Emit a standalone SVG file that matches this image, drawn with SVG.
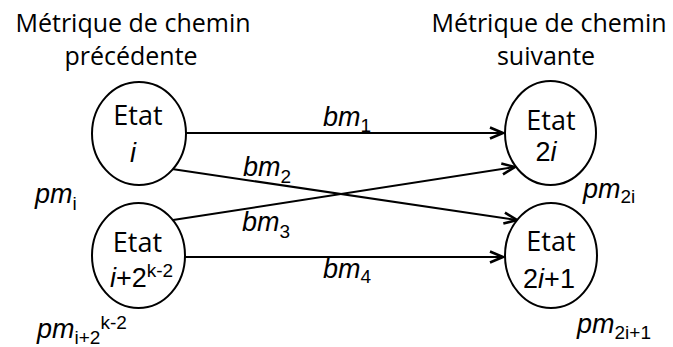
<svg xmlns="http://www.w3.org/2000/svg" width="673" height="347" viewBox="0 0 673 347">
<defs>
<style>
.bg{fill:#fff}
.node{fill:#fff;stroke:#000;stroke-width:2}
.edge{fill:none;stroke:#000;stroke-width:2}
.t{font-family:"Open Sans","DejaVu Sans",sans-serif;font-size:25px;fill:#000}
.e{font-size:27px}
.a{font-family:"Liberation Sans",Arial,sans-serif;fill:#000}
.big{font-size:27px}
.sub{font-size:19px;font-style:normal}
.it{font-style:italic}
</style>
<marker id="arr" markerUnits="userSpaceOnUse" markerWidth="20" markerHeight="16" refX="16" refY="8" orient="auto">
<path d="M3,2.5 L16,8 L3,13.5" fill="none" stroke="#000" stroke-width="2.6" stroke-linejoin="miter"/>
</marker>
</defs>
<rect class="bg" x="0" y="0" width="673" height="347"/>
<g id="titles">
<text class="t" x="133" y="32" text-anchor="middle">Métrique de chemin</text>
<text class="t" x="131" y="65" text-anchor="middle">précédente</text>
<text class="t" x="549" y="32" text-anchor="middle">Métrique de chemin</text>
<text class="t" x="546" y="65" text-anchor="middle">suivante</text>
</g>
<g id="connectors">
<line class="edge" x1="186" y1="133" x2="503" y2="133" marker-end="url(#arr)"/>
<line class="edge" x1="172" y1="169" x2="517" y2="220" marker-end="url(#arr)"/>
<line class="edge" x1="173" y1="220" x2="515" y2="167" marker-end="url(#arr)"/>
<line class="edge" x1="185" y1="257" x2="503" y2="257" marker-end="url(#arr)"/>
<text class="a big it" x="323" y="126">bm<tspan class="sub" dy="6">1</tspan></text>
<text class="a big it" x="243" y="176">bm<tspan class="sub" dy="7">2</tspan></text>
<text class="a big it" x="242" y="231">bm<tspan class="sub" dy="7">3</tspan></text>
<text class="a big it" x="323" y="278">bm<tspan class="sub" dy="5">4</tspan></text>
</g>
<g id="node-i">
<ellipse class="node" cx="139" cy="133.5" rx="47" ry="51.5"/>
<text class="t e" x="138" y="125" text-anchor="middle">Etat</text>
<text class="a big it" x="133" y="162" text-anchor="middle">i</text>
<text class="a big it" x="35" y="203">pm<tspan class="sub" dy="7">i</tspan></text>
</g>
<g id="node-i2k">
<ellipse class="node" cx="138.5" cy="255.5" rx="46.5" ry="52.5"/>
<text class="t e" x="137.5" y="252" text-anchor="middle">Etat</text>
<text class="a big" x="110" y="287"><tspan class="it">i</tspan>+2<tspan class="sub" dy="-10">k-2</tspan></text>
<text class="a big it" x="37" y="338">pm<tspan class="sub" dy="6">i+2</tspan><tspan class="sub" dy="-15">k-2</tspan></text>
</g>
<g id="node-2i">
<ellipse class="node" cx="550.5" cy="133" rx="45.5" ry="52"/>
<text class="t e" x="551" y="130" text-anchor="middle">Etat</text>
<text class="a big" x="546" y="161" text-anchor="middle">2<tspan class="it">i</tspan></text>
<text class="a big it" x="583" y="198">pm<tspan class="sub" dy="5">2i</tspan></text>
</g>
<g id="node-2i1">
<ellipse class="node" cx="551" cy="255.5" rx="46" ry="52.5"/>
<text class="t e" x="551" y="251" text-anchor="middle">Etat</text>
<text class="a big" x="549" y="288" text-anchor="middle">2<tspan class="it">i</tspan>+1</text>
<text class="a big it" x="577" y="333">pm<tspan class="sub" dy="6">2i+1</tspan></text>
</g>
</svg>
